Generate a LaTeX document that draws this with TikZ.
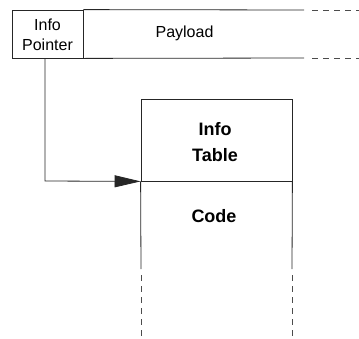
\documentclass[tikz,border=0pt]{standalone}
\usepackage{fontspec}
\setmainfont{Liberation Sans}
\usetikzlibrary{arrows.meta}
\begin{document}
\begin{tikzpicture}[x=1pt,y=-1pt,
  line/.style={line width=0.8pt,black!85},
  dashline/.style={line width=0.8pt,black!70,dash pattern=on 6pt off 5pt},
  cell/.style={draw,line width=0.8pt,black!85,minimum width=#1,inner sep=0pt},
  plain/.style={font=\fontsize{16}{20}\selectfont,align=center,inner sep=0pt},
  heavy/.style={font=\bfseries\fontsize{18}{26}\selectfont,align=center,inner sep=0pt}]
\useasboundingbox (0,0) rectangle (359,338);
% closure header: info pointer cell followed by the open-ended payload
\node[cell=71pt,minimum height=48pt] (ptr) at (47.5,34) {};
\node[plain] (ptrtxt) at (47.5,35) {Info\\Pointer};
\coordinate (ptop) at (ptr.north east);
\coordinate (pbot) at (ptr.south east);
\coordinate (tend) at (304,10);
\coordinate (bend) at (304,58);
\draw[line] (ptop) -- (tend);
\draw[line] (pbot) -- (bend);
\draw[dashline] (tend) ++(8,0) -- (359,10);
\draw[dashline] (bend) ++(8,0) -- (359,58);
\node[plain] (payload) at (184.5,33) {Payload};
% info table above the entry code
\node[cell=151pt,minimum height=82pt] (tbl) at (216.5,140) {};
\node[heavy] (tbltxt) at (215,142) {Info\\Table};
\node[heavy] (code) at (214,216) {Code};
\coordinate (cl) at (141,269);
\coordinate (cr) at (292,269);
\draw[line] (tbl.south west) -- (cl);
\draw[line] (tbl.south east) -- (cr);
\draw[dashline] (cl) ++(0,6) -- (141,338);
\draw[dashline] (cr) ++(0,6) -- (292,338);
% the info pointer refers to the entry code
\coordinate (bend1) at (45,181);
\draw[line,-{Triangle[length=26pt,width=12pt]}] (ptr.south -| bend1) -- (bend1) -- (tbl.south west);
\end{tikzpicture}
\end{document}
